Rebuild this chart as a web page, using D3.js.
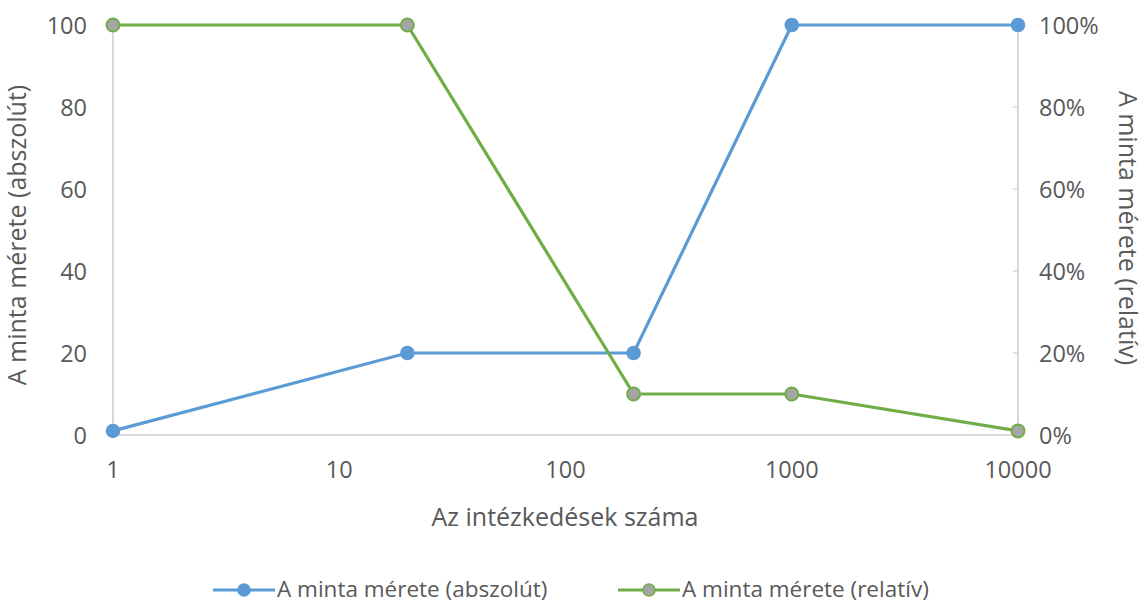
<!DOCTYPE html>
<html><head><meta charset="utf-8">
<script src="https://cdn.jsdelivr.net/npm/d3@7/dist/d3.min.js"></script>
<style>
body{margin:0;background:#fff;}
text{font-family:"Open Sans","Noto Sans",sans-serif;fill:#595959;}
</style></head><body>
<svg id="c" width="1145" height="604"></svg>
<script>
const xValues = [1, 20, 200, 1000, 10000];
const absoluteValues = [1, 20, 20, 100, 100];
const relativePct = [100, 100, 10, 10, 1];
const xTicks = [1, 10, 100, 1000, 10000];
const leftTicks = [0, 20, 40, 60, 80, 100];
const rightTicks = [0, 20, 40, 60, 80, 100];
const seriesNames = ["A minta mérete (abszolút)", "A minta mérete (relatív)"];
const xTitle = "Az intézkedések száma";

const svg = d3.select("#c");
const L = 113, R = 1018, T = 25, B = 435;
const x = d3.scaleLog().domain([1, 10000]).range([L, R]);
const yL = d3.scaleLinear().domain([0, 100]).range([B, T]);
const yR = d3.scaleLinear().domain([0, 100]).range([B, T]);

const blue = "#5b9bd5", green = "#70ad47", grayFill = "#a5a5a5", axisCol = "#d9d9d9";
const fs = 23.5;

svg.append("line").attr("x1", L).attr("x2", R).attr("y1", B).attr("y2", B).attr("stroke", axisCol).attr("stroke-width", 2);
svg.append("line").attr("x1", L).attr("x2", L).attr("y1", T).attr("y2", B).attr("stroke", axisCol).attr("stroke-width", 2);
svg.append("line").attr("x1", R).attr("x2", R).attr("y1", T).attr("y2", B).attr("stroke", axisCol).attr("stroke-width", 2);

svg.selectAll(".rt").data(rightTicks).enter().append("line")
  .attr("x1", R - 5).attr("x2", R).attr("y1", d => yR(d)).attr("y2", d => yR(d))
  .attr("stroke", axisCol).attr("stroke-width", 1.5);

svg.selectAll(".xl").data(xTicks).enter().append("text")
  .attr("x", d => x(d)).attr("y", 478).attr("text-anchor", "middle")
  .attr("font-size", fs).text(d => d3.format("d")(d));
svg.selectAll(".yl").data(leftTicks).enter().append("text")
  .attr("x", 87).attr("y", d => yL(d) + 8.5).attr("text-anchor", "end")
  .attr("font-size", fs).text(d => d);
svg.selectAll(".yr").data(rightTicks).enter().append("text")
  .attr("x", 1039).attr("y", d => yR(d) + 8.5).attr("text-anchor", "start")
  .attr("font-size", fs).text(d => d + "%");

svg.append("text").attr("transform", "translate(26,235) rotate(-90)").attr("text-anchor", "middle")
  .attr("font-size", 25).text(seriesNames[0]);
svg.append("text").attr("transform", "translate(1119,228) rotate(90)").attr("text-anchor", "middle")
  .attr("font-size", 25).text(seriesNames[1]);
svg.append("text").attr("x", 565).attr("y", 526).attr("text-anchor", "middle")
  .attr("font-size", 25).text(xTitle);

const absData = xValues.map((v, i) => [v, absoluteValues[i]]);
const relData = xValues.map((v, i) => [v, relativePct[i]]);
const lineL = d3.line().x(d => x(d[0])).y(d => yL(d[1]));
const lineR = d3.line().x(d => x(d[0])).y(d => yR(d[1]));

svg.append("path").datum(absData).attr("d", lineL).attr("fill", "none").attr("stroke", blue).attr("stroke-width", 3.2);
svg.append("path").datum(relData).attr("d", lineR).attr("fill", "none").attr("stroke", green).attr("stroke-width", 3.2);

svg.selectAll(".pa").data(absData).enter().append("circle")
  .attr("cx", d => x(d[0])).attr("cy", d => yL(d[1])).attr("r", 6.5)
  .attr("fill", blue).attr("stroke", blue).attr("stroke-width", 1.5);
svg.selectAll(".pr").data(relData).enter().append("circle")
  .attr("cx", d => x(d[0])).attr("cy", d => yR(d[1])).attr("r", 6.5)
  .attr("fill", grayFill).attr("stroke", green).attr("stroke-width", 2);

const legY = 590;
const leg = [
  {x0: 213, color: blue, fill: blue, name: seriesNames[0]},
  {x0: 618, color: green, fill: grayFill, name: seriesNames[1]}
];
leg.forEach(l => {
  svg.append("line").attr("x1", l.x0).attr("x2", l.x0 + 62).attr("y1", legY).attr("y2", legY)
    .attr("stroke", l.color).attr("stroke-width", 3.2);
  svg.append("circle").attr("cx", l.x0 + 31).attr("cy", legY).attr("r", 6)
    .attr("fill", l.fill).attr("stroke", l.color).attr("stroke-width", 1.5);
  svg.append("text").attr("x", l.x0 + 64).attr("y", legY + 7).attr("font-size", 22.5).text(l.name);
});
</script></body></html>
